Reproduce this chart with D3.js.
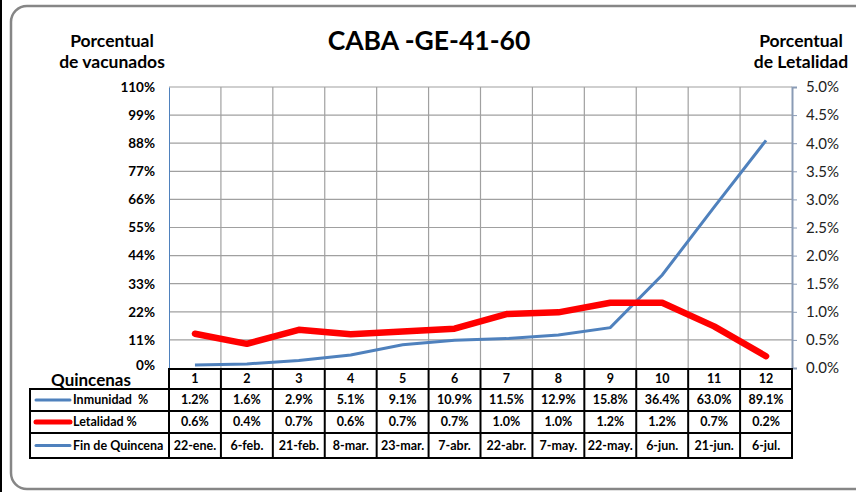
<!DOCTYPE html>
<html><head><meta charset="utf-8">
<script src="https://cdn.jsdelivr.net/npm/d3@7"></script>
<style>body{margin:0;background:#fff}svg{display:block;font-family:Lato,"Open Sans",sans-serif}</style>
</head><body><svg id="c" width="856" height="492"></svg>
<script>
const quincenas = [1,2,3,4,5,6,7,8,9,10,11,12];
const inmunidad = [1.2,1.6,2.9,5.1,9.1,10.9,11.5,12.9,15.8,36.4,63.0,89.1];
const letalidad = [0.61,0.43,0.68,0.60,0.65,0.70,0.96,0.99,1.16,1.16,0.74,0.21];
const letalidadTabla = ["0.6%","0.4%","0.7%","0.6%","0.7%","0.7%","1.0%","1.0%","1.2%","1.2%","0.7%","0.2%"];
const finQuincena = ["22-ene.","6-feb.","21-feb.","8-mar.","23-mar.","7-abr.","22-abr.","7-may.","22-may.","6-jun.","21-jun.","6-jul."];
const leftTicks = [0,11,22,33,44,55,66,77,88,99,110];
const rightTicks = [0,0.5,1,1.5,2,2.5,3,3.5,4,4.5,5];

const svg = d3.select("#c");
const X0 = 169, X1 = 792, Y0 = 87, Y1 = 368;
const x = d3.scaleBand().domain(quincenas).range([X0, X1]);
const yL = d3.scaleLinear().domain([0,110]).range([Y1, Y0]);
const yR = d3.scaleLinear().domain([0,5]).range([Y1, Y0]);

// frame
svg.append("line").attr("x1",1).attr("x2",1).attr("y1",0).attr("y2",492).attr("stroke","#000").attr("stroke-width",2);
svg.append("rect").attr("x",11).attr("y",6).attr("width",880).attr("height",483).attr("rx",16)
  .attr("fill","none").attr("stroke","#868686").attr("stroke-width",2.5);

// titles
svg.append("text").attr("x",429).attr("y",50).attr("text-anchor","middle").attr("font-weight","bold").attr("font-size",26.5).text("CABA -GE-41-60");
const lt = svg.append("g").attr("font-weight","bold").attr("font-size",17.5).attr("text-anchor","middle");
lt.append("text").attr("x",112).attr("y",47).text("Porcentual");
lt.append("text").attr("x",112).attr("y",68).text("de vacunados");
lt.append("text").attr("x",801).attr("y",47).text("Porcentual");
lt.append("text").attr("x",801).attr("y",68).text("de Letalidad");

// grid
const g = svg.append("g");
g.selectAll(".hg").data(leftTicks.slice(1)).join("line")
  .attr("x1",X0).attr("x2",X1).attr("y1",d=>yL(d)).attr("y2",d=>yL(d))
  .attr("stroke","#a0a0a0").attr("stroke-width",1.2);
g.selectAll(".vg").data(quincenas.slice(1)).join("line")
  .attr("x1",d=>x(d)).attr("x2",d=>x(d)).attr("y1",Y0).attr("y2",Y1)
  .attr("stroke","#a0a0a0").attr("stroke-width",1.2);

// axes
const axL = d3.axisLeft(yL).tickValues(leftTicks).tickSize(0).tickPadding(14).tickFormat(d=>d+"%");
const gl = svg.append("g").attr("transform",`translate(${X0},0)`).call(axL);
gl.select(".domain").attr("stroke","#4f81bd").attr("stroke-width",1);
gl.selectAll("text").attr("font-family","Lato,sans-serif").attr("font-weight","bold").attr("font-size",13.5).attr("fill","#000");
gl.selectAll(".tick").filter(d=>d===0).select("text").attr("dy","0.1em");

const axR = d3.axisRight(yR).tickValues(rightTicks).tickSize(5).tickPadding(9).tickFormat(d=>d.toFixed(1)+"%");
const gr = svg.append("g").attr("transform",`translate(${X1},0)`).call(axR);
gr.select(".domain").attr("stroke","#8a9bb5").attr("stroke-width",2);
gr.selectAll("line").attr("stroke","#8a9bb5");
gr.selectAll("text").attr("font-family","Lato,sans-serif").attr("font-size",15).attr("fill","#222");

// lines
const cx = d => x(d) + x.bandwidth()/2;
svg.append("path").datum(quincenas)
  .attr("d", d3.line().x(q=>cx(q)).y((q,i)=>yL(inmunidad[i])))
  .attr("fill","none").attr("stroke","#4f81bd").attr("stroke-width",3);
svg.append("path").datum(quincenas)
  .attr("d", d3.line().x(q=>cx(q)).y((q,i)=>yR(letalidad[i])))
  .attr("fill","none").attr("stroke","#ff0000").attr("stroke-width",6.5).attr("stroke-linejoin","round").attr("stroke-linecap","round");

// table
const rowsY = [369,389,411,433,458];
const LX = 30;
const tb = svg.append("g").attr("font-weight","bold").attr("font-size",12.5);
svg.append("text").attr("x",51).attr("y",386).attr("font-weight","bold").attr("font-size",17).text("Quincenas");
tb.append("rect").attr("x",X0).attr("y",rowsY[0]).attr("width",X1-X0).attr("height",rowsY[1]-rowsY[0]).attr("fill","none").attr("stroke","#000").attr("stroke-width",2);
tb.append("rect").attr("x",LX).attr("y",rowsY[1]).attr("width",X1-LX).attr("height",rowsY[4]-rowsY[1]).attr("fill","none").attr("stroke","#000").attr("stroke-width",2);
[2,3].forEach(r=>tb.append("line").attr("x1",LX).attr("x2",X1).attr("y1",rowsY[r]).attr("y2",rowsY[r]).attr("stroke","#000").attr("stroke-width",2));
tb.selectAll(".cv").data([X0].concat(quincenas.slice(1).map(q=>x(q)))).join("line")
  .attr("x1",d=>d).attr("x2",d=>d).attr("y1",rowsY[0]).attr("y2",rowsY[4]).attr("stroke","#000").attr("stroke-width",2);

const rows = [
  {vals: quincenas.map(String), label:null},
  {vals: inmunidad.map(v=>v.toFixed(1)+"%"), label:"Inmunidad  %", color:"#4f81bd", w:3},
  {vals: letalidadTabla, label:"Letalidad %", color:"#ff0000", w:5},
  {vals: finQuincena, label:"Fin de Quincena", color:"#4f81bd", w:3}
];
rows.forEach((row,r)=>{
  const ym = (rowsY[r]+rowsY[r+1])/2;
  tb.selectAll(null).data(row.vals).join("text")
    .attr("x",(d,i)=>cx(quincenas[i])).attr("y",ym).attr("dy","0.35em").attr("text-anchor","middle").text(d=>d);
  if(row.label){
    tb.append("line").attr("x1",36).attr("x2",70).attr("y1",ym).attr("y2",ym).attr("stroke",row.color).attr("stroke-width",row.w).attr("stroke-linecap","round");
    tb.append("text").attr("x",73).attr("y",ym).attr("dy","0.35em").style("white-space","pre").text(row.label);
  }
});
</script></body></html>
